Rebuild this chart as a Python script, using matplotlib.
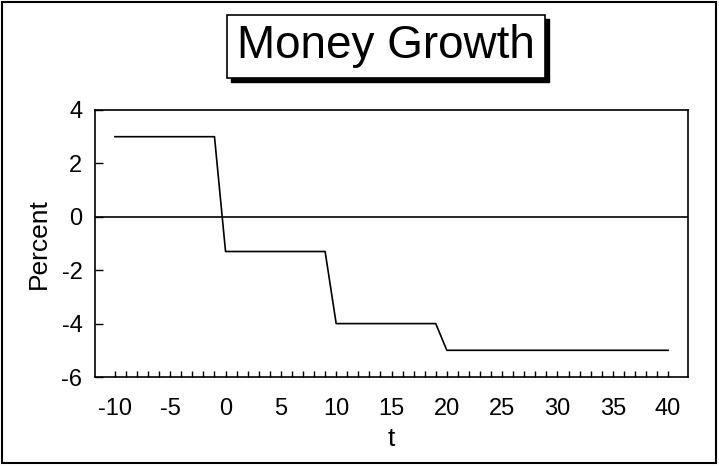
import matplotlib
matplotlib.use("Agg")
import matplotlib.pyplot as plt
from matplotlib.patches import Rectangle

plt.rcParams['font.family'] = ['Liberation Sans', 'DejaVu Sans']
plt.rcParams['axes.unicode_minus'] = False

# money growth path (percent) over time t
t = [-10, -1, 0, 9, 10, 19, 20, 40]
growth = [3, 3, -1.3, -1.3, -4, -4, -5, -5]

x_ticks = [-10, -5, 0, 5, 10, 15, 20, 25, 30, 35, 40]
y_ticks = [-6, -4, -2, 0, 2, 4]

W, H = 719, 466
fig = plt.figure(figsize=(W / 100, H / 100), dpi=100)

ax = fig.add_axes([95 / W, 1 - 377 / H, (688 - 95) / W, (377 - 110) / H])
ax.plot(t, growth, color='black', lw=1.2)
ax.axhline(0, color='black', lw=1.2)

ax.set_xlim(-11.8, 41.8)
ax.set_ylim(-6, 4)
ax.set_xticks(x_ticks)
ax.set_xticks(range(-10, 41), minor=True)
ax.set_yticks(y_ticks)
ax.tick_params(axis='x', which='both', direction='in', length=4.5, width=1,
               pad=15, labelsize=17)
ax.tick_params(axis='y', direction='in', length=6, width=1, pad=9, labelsize=17)
for s in ax.spines.values():
    s.set_linewidth(1.2)

ax.set_xlabel('t', fontsize=19, labelpad=5)
ax.set_ylabel('Percent', fontsize=19, labelpad=8)

# title box with drop shadow
bx0, by0, bx1, by1 = 227, 15, 545, 78
fig.patches.append(Rectangle((bx0 / W + 4 / W, 1 - by1 / H - 4 / H), (bx1 - bx0) / W, (by1 - by0) / H,
                             transform=fig.transFigure, facecolor='black', edgecolor='black', zorder=1))
fig.patches.append(Rectangle((bx0 / W, 1 - by1 / H), (bx1 - bx0) / W, (by1 - by0) / H,
                             transform=fig.transFigure, facecolor='white', edgecolor='black', lw=1.2, zorder=2))
fig.text((bx0 + bx1) / 2 / W, 1 - (by0 + by1) / 2 / H, 'Money Growth', fontsize=33,
         ha='center', va='center', zorder=3)

# outer frame
fig.patches.append(Rectangle((2 / W, 3 / H), 714 / W, 461 / H, transform=fig.transFigure,
                             facecolor='none', edgecolor='black', lw=1.5))

fig.savefig('out.png', dpi=100)
